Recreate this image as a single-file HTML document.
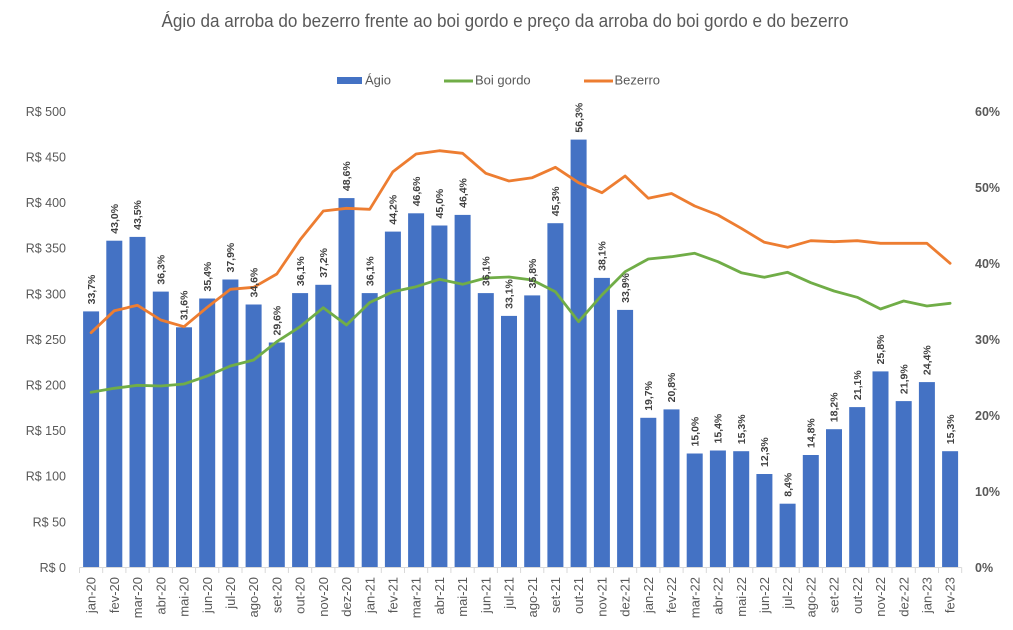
<!DOCTYPE html>
<html>
<head>
<meta charset="utf-8">
<style>
html,body{margin:0;padding:0;background:#fff;}
svg{display:block;}
text{font-family:"Liberation Sans",sans-serif;}
</style>
</head>
<body>
<svg width="1013" height="630" viewBox="0 0 1013 630" xmlns="http://www.w3.org/2000/svg">
<rect x="0" y="0" width="1013" height="630" fill="#fff"/>

<!-- Title -->
<text x="161.5" y="27" font-size="18" fill="#595959" textLength="687" lengthAdjust="spacingAndGlyphs">Ágio da arroba do bezerro frente ao boi gordo e preço da arroba do boi gordo e do bezerro</text>

<!-- Legend -->
<rect x="337" y="77" width="25" height="7" fill="#4472C4"/>
<text x="365" y="84.5" font-size="13" fill="#595959">Ágio</text>
<line x1="444" y1="81" x2="473" y2="81" stroke="#70AD47" stroke-width="3"/>
<text x="475" y="84.5" font-size="13" fill="#595959">Boi gordo</text>
<line x1="584" y1="81" x2="613" y2="81" stroke="#ED7D31" stroke-width="3"/>
<text x="614.5" y="84.5" font-size="13" fill="#595959">Bezerro</text>

<!-- Left axis labels -->
<g font-size="12.5" fill="#595959" text-anchor="end">
<text x="66" y="567.5" dy="0.35em">R$ 0</text>
<text x="66" y="521.9" dy="0.35em">R$ 50</text>
<text x="66" y="476.3" dy="0.35em">R$ 100</text>
<text x="66" y="430.7" dy="0.35em">R$ 150</text>
<text x="66" y="385.1" dy="0.35em">R$ 200</text>
<text x="66" y="339.5" dy="0.35em">R$ 250</text>
<text x="66" y="293.9" dy="0.35em">R$ 300</text>
<text x="66" y="248.3" dy="0.35em">R$ 350</text>
<text x="66" y="202.7" dy="0.35em">R$ 400</text>
<text x="66" y="157.1" dy="0.35em">R$ 450</text>
<text x="66" y="111.5" dy="0.35em">R$ 500</text>
</g>

<!-- Right axis labels -->
<g font-size="12.5" font-weight="bold" fill="#595959" text-anchor="start">
<text x="975" y="567.5" dy="0.35em">0%</text>
<text x="975" y="491.5" dy="0.35em">10%</text>
<text x="975" y="415.5" dy="0.35em">20%</text>
<text x="975" y="339.5" dy="0.35em">30%</text>
<text x="975" y="263.5" dy="0.35em">40%</text>
<text x="975" y="187.5" dy="0.35em">50%</text>
<text x="975" y="111.5" dy="0.35em">60%</text>
</g>

<!-- Bars -->
<g fill="#4472C4">
<rect x="83.1" y="311.4" width="16" height="256.1"/>
<rect x="106.3" y="240.7" width="16" height="326.8"/>
<rect x="129.5" y="236.9" width="16" height="330.6"/>
<rect x="152.8" y="291.6" width="16" height="275.9"/>
<rect x="176.0" y="327.3" width="16" height="240.2"/>
<rect x="199.2" y="298.5" width="16" height="269.0"/>
<rect x="222.4" y="279.5" width="16" height="288.0"/>
<rect x="245.6" y="304.5" width="16" height="263.0"/>
<rect x="268.8" y="342.5" width="16" height="225.0"/>
<rect x="292.1" y="293.1" width="16" height="274.4"/>
<rect x="315.3" y="284.8" width="16" height="282.7"/>
<rect x="338.5" y="198.1" width="16" height="369.4"/>
<rect x="361.7" y="293.1" width="16" height="274.4"/>
<rect x="384.9" y="231.6" width="16" height="335.9"/>
<rect x="408.1" y="213.3" width="16" height="354.2"/>
<rect x="431.4" y="225.5" width="16" height="342.0"/>
<rect x="454.6" y="214.9" width="16" height="352.6"/>
<rect x="477.8" y="293.1" width="16" height="274.4"/>
<rect x="501.0" y="315.9" width="16" height="251.6"/>
<rect x="524.2" y="295.4" width="16" height="272.1"/>
<rect x="547.4" y="223.2" width="16" height="344.3"/>
<rect x="570.6" y="139.6" width="16" height="427.9"/>
<rect x="593.9" y="277.9" width="16" height="289.6"/>
<rect x="617.1" y="309.9" width="16" height="257.6"/>
<rect x="640.3" y="417.8" width="16" height="149.7"/>
<rect x="663.5" y="409.4" width="16" height="158.1"/>
<rect x="686.7" y="453.5" width="16" height="114.0"/>
<rect x="709.9" y="450.5" width="16" height="117.0"/>
<rect x="733.2" y="451.2" width="16" height="116.3"/>
<rect x="756.4" y="474.0" width="16" height="93.5"/>
<rect x="779.6" y="503.7" width="16" height="63.8"/>
<rect x="802.8" y="455.0" width="16" height="112.5"/>
<rect x="826.0" y="429.2" width="16" height="138.3"/>
<rect x="849.2" y="407.1" width="16" height="160.4"/>
<rect x="872.5" y="371.4" width="16" height="196.1"/>
<rect x="895.7" y="401.1" width="16" height="166.4"/>
<rect x="918.9" y="382.1" width="16" height="185.4"/>
<rect x="942.1" y="451.2" width="16" height="116.3"/>
</g>

<!-- Axis line & ticks -->
<line x1="79.5" y1="567.5" x2="961.7" y2="567.5" stroke="#d9d9d9" stroke-width="1"/>
<path stroke="#d9d9d9" stroke-width="1" fill="none" d="M79.5 567.5V573M102.7 567.5V573M125.9 567.5V573M149.1 567.5V573M172.4 567.5V573M195.6 567.5V573M218.8 567.5V573M242.0 567.5V573M265.2 567.5V573M288.4 567.5V573M311.7 567.5V573M334.9 567.5V573M358.1 567.5V573M381.3 567.5V573M404.5 567.5V573M427.7 567.5V573M450.9 567.5V573M474.2 567.5V573M497.4 567.5V573M520.6 567.5V573M543.8 567.5V573M567.0 567.5V573M590.2 567.5V573M613.5 567.5V573M636.7 567.5V573M659.9 567.5V573M683.1 567.5V573M706.3 567.5V573M729.5 567.5V573M752.8 567.5V573M776.0 567.5V573M799.2 567.5V573M822.4 567.5V573M845.6 567.5V573M868.8 567.5V573M892.0 567.5V573M915.3 567.5V573M938.5 567.5V573M961.7 567.5V573"/>

<!-- Lines -->
<polyline fill="none" stroke="#ED7D31" stroke-width="2.8" stroke-linejoin="round" stroke-linecap="round" points="91.1,332.7 114.3,310.7 137.5,305.3 160.8,320 184.0,326.7 207.2,307.3 230.4,289.3 253.6,287.3 276.8,274 300.1,239.8 323.3,211 346.5,208.3 369.7,209.3 392.9,171.7 416.1,154 439.3,150.7 462.6,153.3 485.8,173.3 509.0,181 532.2,177.7 555.4,167.3 578.6,182.7 601.9,192.7 625.1,176 648.3,198.3 671.5,193.5 694.7,206 717.9,215 741.2,228.3 764.4,242.3 787.6,247.3 810.8,240.7 834.0,241.7 857.2,240.7 880.5,243.3 903.7,243.3 926.9,243.3 950.1,263.3"/>
<polyline fill="none" stroke="#70AD47" stroke-width="2.8" stroke-linejoin="round" stroke-linecap="round" points="91.1,392.3 114.3,388.3 137.5,385.3 160.8,386 184.0,384 207.2,376 230.4,366 253.6,360 276.8,341.7 300.1,326.7 323.3,307.7 346.5,325 369.7,302.5 392.9,291.7 416.1,286.7 439.3,279.3 462.6,284.3 485.8,278 509.0,277 532.2,280 555.4,291.7 578.6,321.7 601.9,295 625.1,271.7 648.3,259 671.5,256.7 694.7,253.3 717.9,261.7 741.2,272.7 764.4,277.3 787.6,272.3 810.8,282.7 834.0,291 857.2,297.3 880.5,309 903.7,301 926.9,306 950.1,303.3"/>

<!-- Data labels -->
<g font-size="10.5" font-weight="bold" fill="#404040" text-anchor="start">
<text transform="translate(91.1,304.4) rotate(-90)" dy="0.35em">33,7%</text>
<text transform="translate(114.3,233.7) rotate(-90)" dy="0.35em">43,0%</text>
<text transform="translate(137.5,229.9) rotate(-90)" dy="0.35em">43,5%</text>
<text transform="translate(160.8,284.6) rotate(-90)" dy="0.35em">36,3%</text>
<text transform="translate(184.0,320.3) rotate(-90)" dy="0.35em">31,6%</text>
<text transform="translate(207.2,291.5) rotate(-90)" dy="0.35em">35,4%</text>
<text transform="translate(230.4,272.5) rotate(-90)" dy="0.35em">37,9%</text>
<text transform="translate(253.6,297.5) rotate(-90)" dy="0.35em">34,6%</text>
<text transform="translate(276.8,335.5) rotate(-90)" dy="0.35em">29,6%</text>
<text transform="translate(300.1,286.1) rotate(-90)" dy="0.35em">36,1%</text>
<text transform="translate(323.3,277.8) rotate(-90)" dy="0.35em">37,2%</text>
<text transform="translate(346.5,191.1) rotate(-90)" dy="0.35em">48,6%</text>
<text transform="translate(369.7,286.1) rotate(-90)" dy="0.35em">36,1%</text>
<text transform="translate(392.9,224.6) rotate(-90)" dy="0.35em">44,2%</text>
<text transform="translate(416.1,206.3) rotate(-90)" dy="0.35em">46,6%</text>
<text transform="translate(439.3,218.5) rotate(-90)" dy="0.35em">45,0%</text>
<text transform="translate(462.6,207.9) rotate(-90)" dy="0.35em">46,4%</text>
<text transform="translate(485.8,286.1) rotate(-90)" dy="0.35em">36,1%</text>
<text transform="translate(509.0,308.9) rotate(-90)" dy="0.35em">33,1%</text>
<text transform="translate(532.2,288.4) rotate(-90)" dy="0.35em">35,8%</text>
<text transform="translate(555.4,216.2) rotate(-90)" dy="0.35em">45,3%</text>
<text transform="translate(578.6,132.6) rotate(-90)" dy="0.35em">56,3%</text>
<text transform="translate(601.9,270.9) rotate(-90)" dy="0.35em">38,1%</text>
<text transform="translate(625.1,302.9) rotate(-90)" dy="0.35em">33,9%</text>
<text transform="translate(648.3,410.8) rotate(-90)" dy="0.35em">19,7%</text>
<text transform="translate(671.5,402.4) rotate(-90)" dy="0.35em">20,8%</text>
<text transform="translate(694.7,446.5) rotate(-90)" dy="0.35em">15,0%</text>
<text transform="translate(717.9,443.5) rotate(-90)" dy="0.35em">15,4%</text>
<text transform="translate(741.2,444.2) rotate(-90)" dy="0.35em">15,3%</text>
<text transform="translate(764.4,467.0) rotate(-90)" dy="0.35em">12,3%</text>
<text transform="translate(787.6,496.7) rotate(-90)" dy="0.35em">8,4%</text>
<text transform="translate(810.8,448.0) rotate(-90)" dy="0.35em">14,8%</text>
<text transform="translate(834.0,422.2) rotate(-90)" dy="0.35em">18,2%</text>
<text transform="translate(857.2,400.1) rotate(-90)" dy="0.35em">21,1%</text>
<text transform="translate(880.5,364.4) rotate(-90)" dy="0.35em">25,8%</text>
<text transform="translate(903.7,394.1) rotate(-90)" dy="0.35em">21,9%</text>
<text transform="translate(926.9,375.1) rotate(-90)" dy="0.35em">24,4%</text>
<text transform="translate(950.1,444.2) rotate(-90)" dy="0.35em">15,3%</text>
</g>

<!-- X axis labels -->
<g font-size="13" fill="#595959" text-anchor="end">
<text transform="translate(91.1,577) rotate(-90)" dy="0.35em">jan-20</text>
<text transform="translate(114.3,577) rotate(-90)" dy="0.35em">fev-20</text>
<text transform="translate(137.5,577) rotate(-90)" dy="0.35em">mar-20</text>
<text transform="translate(160.8,577) rotate(-90)" dy="0.35em">abr-20</text>
<text transform="translate(184.0,577) rotate(-90)" dy="0.35em">mai-20</text>
<text transform="translate(207.2,577) rotate(-90)" dy="0.35em">jun-20</text>
<text transform="translate(230.4,577) rotate(-90)" dy="0.35em">jul-20</text>
<text transform="translate(253.6,577) rotate(-90)" dy="0.35em">ago-20</text>
<text transform="translate(276.8,577) rotate(-90)" dy="0.35em">set-20</text>
<text transform="translate(300.1,577) rotate(-90)" dy="0.35em">out-20</text>
<text transform="translate(323.3,577) rotate(-90)" dy="0.35em">nov-20</text>
<text transform="translate(346.5,577) rotate(-90)" dy="0.35em">dez-20</text>
<text transform="translate(369.7,577) rotate(-90)" dy="0.35em">jan-21</text>
<text transform="translate(392.9,577) rotate(-90)" dy="0.35em">fev-21</text>
<text transform="translate(416.1,577) rotate(-90)" dy="0.35em">mar-21</text>
<text transform="translate(439.3,577) rotate(-90)" dy="0.35em">abr-21</text>
<text transform="translate(462.6,577) rotate(-90)" dy="0.35em">mai-21</text>
<text transform="translate(485.8,577) rotate(-90)" dy="0.35em">jun-21</text>
<text transform="translate(509.0,577) rotate(-90)" dy="0.35em">jul-21</text>
<text transform="translate(532.2,577) rotate(-90)" dy="0.35em">ago-21</text>
<text transform="translate(555.4,577) rotate(-90)" dy="0.35em">set-21</text>
<text transform="translate(578.6,577) rotate(-90)" dy="0.35em">out-21</text>
<text transform="translate(601.9,577) rotate(-90)" dy="0.35em">nov-21</text>
<text transform="translate(625.1,577) rotate(-90)" dy="0.35em">dez-21</text>
<text transform="translate(648.3,577) rotate(-90)" dy="0.35em">jan-22</text>
<text transform="translate(671.5,577) rotate(-90)" dy="0.35em">fev-22</text>
<text transform="translate(694.7,577) rotate(-90)" dy="0.35em">mar-22</text>
<text transform="translate(717.9,577) rotate(-90)" dy="0.35em">abr-22</text>
<text transform="translate(741.2,577) rotate(-90)" dy="0.35em">mai-22</text>
<text transform="translate(764.4,577) rotate(-90)" dy="0.35em">jun-22</text>
<text transform="translate(787.6,577) rotate(-90)" dy="0.35em">jul-22</text>
<text transform="translate(810.8,577) rotate(-90)" dy="0.35em">ago-22</text>
<text transform="translate(834.0,577) rotate(-90)" dy="0.35em">set-22</text>
<text transform="translate(857.2,577) rotate(-90)" dy="0.35em">out-22</text>
<text transform="translate(880.5,577) rotate(-90)" dy="0.35em">nov-22</text>
<text transform="translate(903.7,577) rotate(-90)" dy="0.35em">dez-22</text>
<text transform="translate(926.9,577) rotate(-90)" dy="0.35em">jan-23</text>
<text transform="translate(950.1,577) rotate(-90)" dy="0.35em">fev-23</text>
</g>
</svg>
</body>
</html>
